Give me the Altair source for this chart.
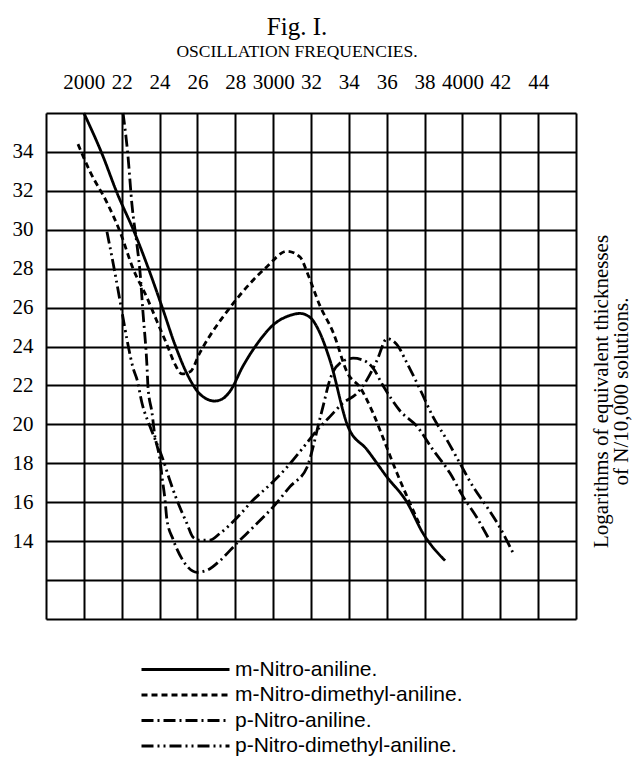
import altair as alt
import pandas as pd

# ---- data ----
series_names = ["m-Nitro-aniline.", "m-Nitro-dimethyl-aniline.",
                "p-Nitro-aniline.", "p-Nitro-dimethyl-aniline."]

m_nitro_freq = [2000, 2096, 2175, 2270, 2349, 2418, 2481, 2545, 2600, 2650, 2690, 2730,
                2772, 2841, 2920, 2999, 3089, 3142, 3195, 3247, 3300, 3395, 3496, 3601,
                3707, 3792, 3908]
m_nitro_log = [36.0, 33.9, 31.9, 29.8, 27.8, 25.9, 24.1, 22.6, 21.7, 21.3, 21.2, 21.3,
               21.7, 23.0, 24.2, 25.1, 25.6, 25.7, 25.5, 24.7, 23.3, 19.9, 18.7, 17.3,
               16.0, 14.4, 13.0]

m_dimethyl_freq = [1969, 2032, 2122, 2191, 2260, 2334, 2386, 2439, 2481, 2518, 2561, 2614,
                   2788, 2967, 3073, 3142, 3184, 3247, 3316, 3395, 3459, 3527, 3601, 3654,
                   3707, 3776]
m_dimethyl_log = [34.4, 33.0, 31.4, 29.9, 28.0, 26.5, 25.3, 24.1, 23.1, 22.6, 22.7, 23.7,
                  26.2, 28.1, 28.9, 28.6, 27.7, 26.1, 24.75, 22.6, 21.9, 20.6, 18.8, 17.5,
                  16.3, 14.8]

p_nitro_freq = [2207, 2233, 2254, 2281, 2297, 2312, 2334, 2339, 2360, 2376, 2392, 2402,
                2413, 2429, 2439, 2471, 2524, 2598, 2650, 2719, 2809, 2893, 2999, 3089,
                3179, 3210, 3237, 3263, 3300, 3353, 3422, 3475, 3527, 3580, 3670, 3760,
                3844, 3934, 4003, 4077, 4135]
p_nitro_log = [36.0, 33.8, 31.3, 29.2, 27.8, 25.8, 22.9, 21.9, 20.6, 19.35, 18.7, 18.2,
               17.3, 16.1, 15.1, 14.1, 13.0, 12.4, 12.5, 13.0, 13.9, 14.7, 15.75, 16.8,
               17.8, 18.8, 19.9, 20.9, 22.3, 23.15, 23.4, 23.3, 22.9, 22.0, 20.7, 19.9,
               18.7, 17.5, 16.3, 15.2, 14.2]

p_dimethyl_freq = [2122, 2164, 2201, 2233, 2260, 2281, 2307, 2349, 2386, 2418, 2455, 2492,
                   2545, 2577, 2614, 2666, 2719, 2809, 2893, 2983, 3073, 3158, 3232, 3300,
                   3369, 3443, 3496, 3549, 3601, 3654, 3707, 3776, 3844, 3918, 3987, 4056,
                   4130, 4198, 4267]
p_dimethyl_log = [29.9, 27.8, 25.8, 24.1, 22.9, 22.3, 21.1, 19.9, 19.0, 18.2, 17.1, 16.1,
                  14.9, 14.2, 14.05, 14.05, 14.4, 15.2, 16.1, 16.9, 17.8, 18.8, 19.7, 20.4,
                  21.1, 21.6, 22.3, 23.3, 24.4, 24.1, 23.15, 21.8, 20.4, 19.2, 18.0, 16.8,
                  15.75, 14.7, 13.4]

x_grid = [1800, 2000, 2200, 2400, 2600, 2800, 3000, 3200, 3400, 3600, 3800, 4000, 4200, 4400, 4600]
x_labels = ["", "2000", "22", "24", "26", "28", "3000", "32", "34", "36", "38", "4000", "42", "44", ""]
y_grid = [10, 12, 14, 16, 18, 20, 22, 24, 26, 28, 30, 32, 34, 36]
y_labels = ["", "", "14", "16", "18", "20", "22", "24", "26", "28", "30", "32", "34", ""]

# ---- styles ----
dash_patterns = [[1, 0], [6, 4], [12, 4, 2, 4], [12, 4, 2, 4, 2, 4]]

rows = []
for name, fs, ls in [(series_names[0], m_nitro_freq, m_nitro_log),
                     (series_names[1], m_dimethyl_freq, m_dimethyl_log),
                     (series_names[2], p_nitro_freq, p_nitro_log),
                     (series_names[3], p_dimethyl_freq, p_dimethyl_log)]:
    for f, l in zip(fs, ls):
        rows.append({"series": name, "freq": f, "log": l})
df = pd.DataFrame(rows)


def label_expr(values, labels):
    vals = ",".join(str(v) for v in values)
    labs = ",".join("'" + s + "'" for s in labels)
    return "[" + labs + "][indexof([" + vals + "], datum.value)]"


serif = "Liberation Serif"

chart = alt.Chart(df).mark_line(
    interpolate="monotone", strokeWidth=2.8, color="black"
).encode(
    x=alt.X("freq:Q",
            scale=alt.Scale(domain=[1800, 4600], nice=False, zero=False),
            axis=alt.Axis(orient="top", values=x_grid, labelExpr=label_expr(x_grid, x_labels),
                          grid=True, gridColor="black", gridWidth=2, gridOpacity=1,
                          ticks=False, domain=False, title=None,
                          labelFont=serif, labelFontSize=21, labelColor="black",
                          labelPadding=21, labelOverlap=False, labelFlush=False)),
    y=alt.Y("log:Q",
            scale=alt.Scale(domain=[10, 36], nice=False, zero=False),
            axis=alt.Axis(orient="left", values=y_grid, labelExpr=label_expr(y_grid, y_labels),
                          grid=True, gridColor="black", gridWidth=2, gridOpacity=1,
                          ticks=False, domain=False,
                          labelFont=serif, labelFontSize=21, labelColor="black",
                          labelPadding=13, labelOverlap=False, labelFlush=False,
                          title=["Logarithms of equivalent thicknesses", "of N/10,000 solutions."],
                          titleX=555, titleY=278, titleAngle=270, titleAlign="center",
                          titleBaseline="middle", titleFont=serif, titleFontSize=21,
                          titleFontWeight="normal", titleColor="black", titleLineHeight=20)),
    strokeDash=alt.StrokeDash("series:N",
                              scale=alt.Scale(domain=series_names, range=dash_patterns),
                              legend=alt.Legend(orient="none", legendX=127, legendY=544,
                                                title=None, symbolType="M-4,0H4", symbolSize=484,
                                                symbolStrokeWidth=2.8, symbolStrokeColor="black",
                                                labelFont="Liberation Sans", labelFontSize=21,
                                                labelColor="black", labelOffset=37, rowPadding=2.5,
                                                padding=0, labelLimit=500, direction="vertical")),
).properties(
    width=530, height=506,
    autosize=alt.AutoSizeParams(type="none"),
    padding={"left": 38, "top": 105, "right": 56, "bottom": 138},
    title=alt.TitleParams(text="Fig. I.", subtitle="OSCILLATION FREQUENCIES.",
                          font=serif, fontSize=25, fontWeight="normal", color="black",
                          subtitleFont=serif, subtitleFontSize=17.5, subtitleColor="black",
                          subtitlePadding=3, anchor="middle", offset=11, dx=-14),
).configure_view(stroke="black", strokeWidth=2.5).configure(background="white")

chart.save("out.html", embed_options={"renderer": "svg", "actions": False})
